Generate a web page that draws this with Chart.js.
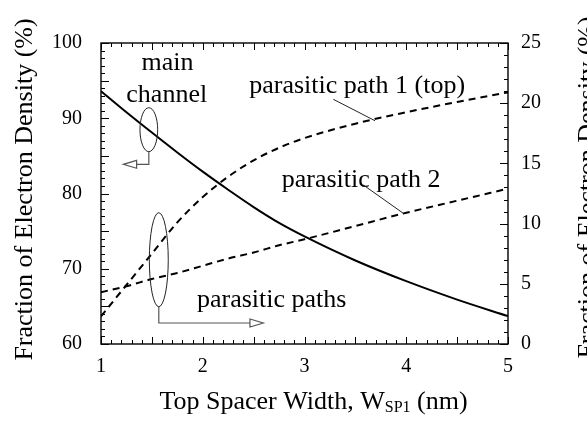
<!DOCTYPE html>
<html>
<head>
<meta charset="utf-8">
<script src="https://cdn.jsdelivr.net/npm/chart.js@4.4.1/dist/chart.umd.min.js"></script>
<style>
  html, body { margin: 0; padding: 0; background: #fff; }
  canvas { display: block; }
</style>
</head>
<body>
<canvas id="densityChart" width="587" height="426"></canvas>
<script>
// top spacer width W_SP1 (nm)
const spacerWidths = [1, 1.25, 1.5, 1.75, 2, 2.25, 2.5, 2.75, 3, 3.5, 4, 4.5, 5];
// main channel, left axis (%)
const mainChannel = [93.6, 90.8, 88.1, 85.45, 82.9, 80.5, 78.2, 76.1, 74.3, 71.1, 68.35, 65.9, 63.7];
// parasitic paths, right axis (%)
const parasiticTop = [2.3, 4.9, 7.5, 10.1, 12.2, 13.9, 15.25, 16.3, 17.1, 18.3, 19.25, 20.1, 20.9];
const parasitic2 = [4.3, 4.8, 5.4, 5.9, 6.5, 7.1, 7.6, 8.2, 8.7, 9.8, 10.9, 11.9, 12.9];

const xTicks = [1, 2, 3, 4, 5];
const leftTicks = [60, 70, 80, 90, 100];
const rightTicks = [0, 5, 10, 15, 20, 25];

const serif = '"Liberation Serif", "Times New Roman", serif';

function points(ys) {
  return spacerWidths.map((x, i) => ({ x: x, y: ys[i] }));
}

// inward tick marks + frame
const frameTicks = {
  id: 'frameTicks',
  afterDatasetsDraw(chart) {
    const { ctx, chartArea: a, scales } = chart;
    const seg = (x1, y1, x2, y2) => {
      ctx.beginPath(); ctx.moveTo(x1, y1); ctx.lineTo(x2, y2); ctx.stroke();
    };
    ctx.save();
    ctx.strokeStyle = '#000';
    ctx.lineWidth = 1;
    for (let i = 10; i <= 50; i++) {
      const px = Math.round(scales.x.getPixelForValue(i / 10)) + 0.5;
      const len = i % 5 === 0 ? 7 : 4;
      seg(px, a.bottom, px, a.bottom - len);
      seg(px, a.top, px, a.top + len);
    }
    for (let v = 60; v <= 100; v++) {
      const py = Math.round(scales.y.getPixelForValue(v)) + 0.5;
      seg(a.left, py, a.left + (v % 5 === 0 ? 8 : 4), py);
    }
    for (let v = 0; v <= 25; v++) {
      const py = Math.round(scales.y2.getPixelForValue(v)) + 0.5;
      seg(a.right, py, a.right - (v % 5 === 0 ? 8 : 4), py);
    }
    ctx.lineWidth = 1.4;
    ctx.strokeRect(a.left, a.top, a.right - a.left, a.bottom - a.top);
    ctx.restore();
  }
};

// labels, ellipses, arrows and axis titles
const notes = {
  id: 'notes',
  afterDraw(chart) {
    const { ctx, chartArea: a, scales } = chart;
    const X = v => scales.x.getPixelForValue(v);
    const Y = v => scales.y.getPixelForValue(v);
    const dx = v => X(v) - X(0);
    const dy = v => Y(0) - Y(v);
    ctx.save();
    ctx.fillStyle = '#000';
    ctx.font = '26px ' + serif;
    ctx.textBaseline = 'alphabetic';

    ctx.textAlign = 'center';
    ctx.fillText('main', X(1.654), Y(96.41));
    ctx.fillText('channel', X(1.646), Y(92.2));
    ctx.textAlign = 'left';
    ctx.fillText('parasitic path 1 (top)', X(2.457), Y(93.32));
    ctx.fillText('parasitic path 2', X(2.776), Y(80.9));
    ctx.fillText('parasitic paths', X(1.943), Y(64.96));

    ctx.strokeStyle = '#222';
    ctx.lineWidth = 1;
    // leader lines
    const seg = (x1, y1, x2, y2) => {
      ctx.beginPath(); ctx.moveTo(X(x1), Y(y1)); ctx.lineTo(X(x2), Y(y2)); ctx.stroke();
    };
    seg(3.283, 92.52, 3.693, 89.67);
    seg(3.578, 81.13, 3.971, 77.37);

    // ellipses
    ctx.beginPath();
    ctx.ellipse(X(1.47), Y(88.48), dx(0.087), dy(2.92), 0, 0, Math.PI * 2);
    ctx.stroke();
    ctx.beginPath();
    ctx.ellipse(X(1.568), Y(71.2), dx(0.093), dy(6.25), 0, 0, Math.PI * 2);
    ctx.stroke();

    // arrows
    ctx.strokeStyle = '#555';
    ctx.lineWidth = 1.2;
    ctx.beginPath();
    ctx.moveTo(X(1.47), Y(85.56));
    ctx.lineTo(X(1.47), Y(83.88));
    ctx.lineTo(X(1.35), Y(83.88));
    ctx.stroke();
    ctx.beginPath();
    ctx.moveTo(X(1.35), Y(83.88) - 4);
    ctx.lineTo(X(1.22), Y(83.88));
    ctx.lineTo(X(1.35), Y(83.88) + 4);
    ctx.closePath();
    ctx.stroke();

    ctx.beginPath();
    ctx.moveTo(X(1.568), Y(64.95));
    ctx.lineTo(X(1.568), Y(62.79));
    ctx.lineTo(X(2.464), Y(62.79));
    ctx.stroke();
    ctx.beginPath();
    ctx.moveTo(X(2.464), Y(62.79) - 4);
    ctx.lineTo(X(2.595), Y(62.79));
    ctx.lineTo(X(2.464), Y(62.79) + 4);
    ctx.closePath();
    ctx.stroke();

    // axis titles
    const yTitle = 'Fraction of Electron Density (%)';
    const midY = (a.top + a.bottom) / 2 - 4;
    ctx.textAlign = 'center';
    ctx.save();
    ctx.translate(32, midY);
    ctx.rotate(-Math.PI / 2);
    ctx.fillText(yTitle, 0, 0);
    ctx.restore();
    ctx.save();
    ctx.translate(595, midY - 2);
    ctx.rotate(-Math.PI / 2);
    ctx.fillText(yTitle, 0, 0);
    ctx.restore();

    // x title with subscript
    ctx.textAlign = 'left';
    const part1 = 'Top Spacer Width, W';
    const sub = 'SP1';
    const part2 = ' (nm)';
    const w1 = ctx.measureText(part1).width;
    const w3 = ctx.measureText(part2).width;
    ctx.font = '16px ' + serif;
    const w2 = ctx.measureText(sub).width;
    const total = w1 + w2 + w3;
    let tx = (a.left + a.right) / 2 + 9 - total / 2;
    const base = 409;
    ctx.font = '26px ' + serif;
    ctx.fillText(part1, tx, base);
    tx += w1;
    ctx.font = '16px ' + serif;
    ctx.fillText(sub, tx, base + 3);
    tx += w2;
    ctx.font = '26px ' + serif;
    ctx.fillText(part2, tx, base);
    ctx.restore();
  }
};

const ctx = document.getElementById('densityChart').getContext('2d');
new Chart(ctx, {
  type: 'line',
  data: {
    datasets: [
      {
        label: 'main channel',
        data: points(mainChannel),
        yAxisID: 'y',
        borderColor: '#000',
        borderWidth: 2,
        pointRadius: 0,
        cubicInterpolationMode: 'monotone',
        fill: false
      },
      {
        label: 'parasitic path 1 (top)',
        data: points(parasiticTop),
        yAxisID: 'y2',
        borderColor: '#000',
        borderWidth: 2,
        borderDash: [7, 5],
        pointRadius: 0,
        cubicInterpolationMode: 'monotone',
        fill: false
      },
      {
        label: 'parasitic path 2',
        data: points(parasitic2),
        yAxisID: 'y2',
        borderColor: '#000',
        borderWidth: 2,
        borderDash: [7, 5],
        pointRadius: 0,
        cubicInterpolationMode: 'monotone',
        fill: false
      }
    ]
  },
  options: {
    responsive: false,
    animation: false,
    layout: { padding: { top: 43, left: 0, right: 0, bottom: 0 } },
    plugins: {
      legend: { display: false },
      tooltip: { enabled: false }
    },
    scales: {
      x: {
        type: 'linear',
        min: 1,
        max: 5,
        afterFit: s => { s.height = 82; },
        afterBuildTicks: s => { s.ticks = xTicks.map(v => ({ value: v })); },
        grid: { display: false, drawTicks: false },
        border: { display: false },
        ticks: { color: '#000', padding: 11, font: { family: serif, size: 20 } }
      },
      y: {
        position: 'left',
        min: 60,
        max: 100,
        afterFit: s => { s.width = 101; },
        afterBuildTicks: s => { s.ticks = leftTicks.map(v => ({ value: v })); },
        grid: { display: false, drawTicks: false },
        border: { display: false },
        ticks: { color: '#000', padding: 19, font: { family: serif, size: 20 } }
      },
      y2: {
        position: 'right',
        min: 0,
        max: 25,
        afterFit: s => { s.width = 79; },
        afterBuildTicks: s => { s.ticks = rightTicks.map(v => ({ value: v })); },
        grid: { display: false, drawTicks: false },
        border: { display: false },
        ticks: { color: '#000', padding: 13, font: { family: serif, size: 20 } }
      }
    }
  },
  plugins: [frameTicks, notes]
});
</script>
</body>
</html>
